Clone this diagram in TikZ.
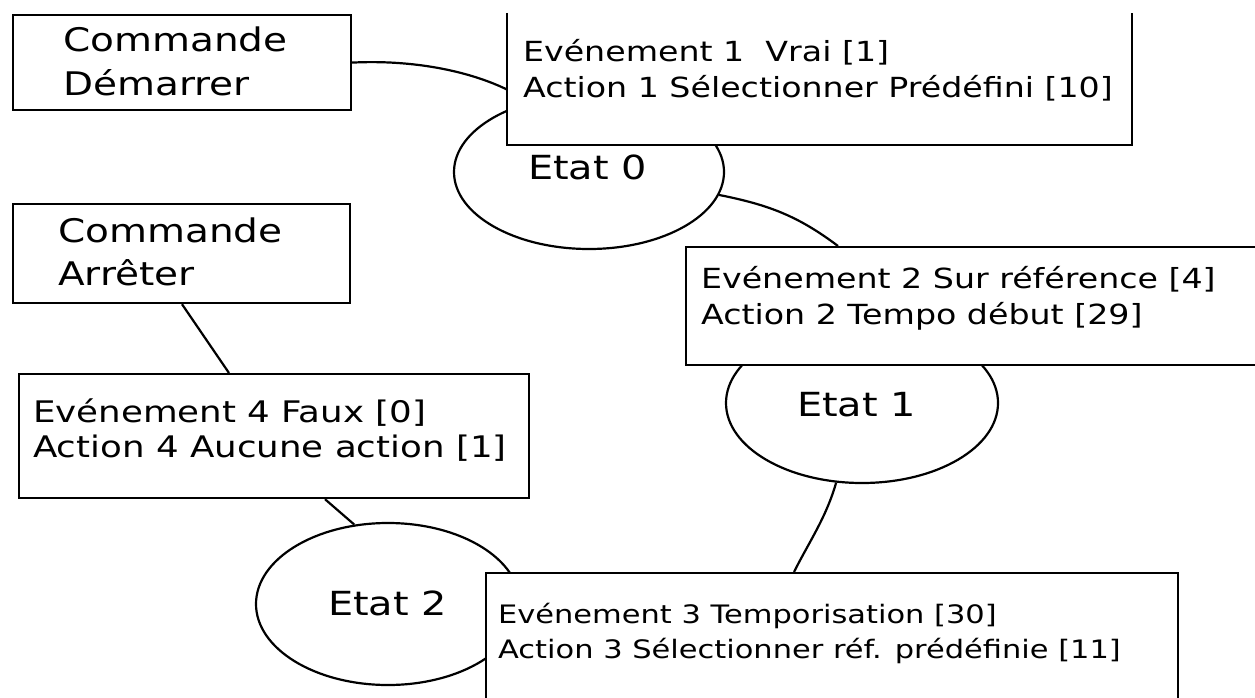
\documentclass[tikz,border=0pt]{standalone}
\usepackage{fontspec}
\usetikzlibrary{shapes.geometric,calc}
\newfontfamily\wf[FakeStretch=1.2]{DejaVu Sans}
\newcommand{\fsz}[1]{\fontsize{#1}{#1}\selectfont}
\begin{document}
\begin{tikzpicture}[x=1pt,y=-1pt,line width=2.2pt,
  box/.style={draw,fill=white,rectangle,inner sep=0pt,anchor=north west},
  state/.style={draw,fill=white,ellipse,inner sep=0pt},
  lbl/.style={inner sep=0pt,anchor=base west,font=\wf},
  link/.style={draw,line width=2.2pt}]
\useasboundingbox (0,0) rectangle (1255,698);
\clip (0,0) rectangle (1255,698);
\fill[white] (0,0) rectangle (1255,698);

% states
\node[state,minimum width=270pt,minimum height=154pt] (e0) at (589,172) {};
\node[state,minimum width=272pt,minimum height=160pt] (e1) at (862,403) {};
\node[state,minimum width=264pt,minimum height=162pt] (e2) at (388,604) {};

% boxes (geometry)
\node[box,minimum width=338pt,minimum height=95pt] (cd) at (12,14) {};
\node[box,minimum width=337pt,minimum height=99pt] (ca) at (12,203) {};
\node[box,minimum width=510pt,minimum height=124pt] (b4) at (18,373) {};

% connectors
\draw[link] (cd.east) .. controls +(60,-3) and +(-40,-20) .. ($(cd.east)+(157,28)$) coordinate (b1in);
\draw[link] (e0.-10) .. controls +(50,10) and +(-40,-30) .. ($(e0.center)+(249,74)$) coordinate (b2in);
\draw[link] (e1.-108) .. controls +(-10,35) and +(15,-30) .. ($(e1.center)+(-68,169)$) coordinate (b3in);
\draw[link] ($(ca.south west)+(170,0)$) -- ($(b4.north west)+(211,0)$);
\draw[link] ($(b4.south west)+(307,0)$) -- (e2.113);

% boxes drawn over the states
\node[box,draw=none,minimum width=623pt,minimum height=130pt] (b1) at (507,13) {};
\draw (b1.north west) -- (b1.south west) -- (b1.south east) -- (b1.north east);
\node[box,minimum width=590pt,minimum height=118pt] (b2) at (685,246) {};
\node[box,minimum width=692pt,minimum height=150pt] (b3) at (485,572) {};

% texts
\node[lbl,font=\wf\fsz{32.5}] (cd1) at (62,52) {Commande};
\node[lbl,font=\wf\fsz{32.5}] (cd2) at (62,96) {Démarrer};
\node[lbl,font=\wf\fsz{32.5}] (ca1) at (57,242) {Commande};
\node[lbl,font=\wf\fsz{32.5}] (ca2) at (57,285) {Arrêter};

\node[lbl,font=\wf\fsz{27.7}] (t1a) at (522,62) {Evénement 1~~Vrai [1]};
\node[lbl,font=\wf\fsz{27.7}] (t1b) at (522,98) {Action 1 Sélectionner Prédéfini [10]};
\node[lbl,font=\wf\fsz{27.7}] (t2a) at (700,288) {Evénement 2 Sur référence [4]};
\node[lbl,font=\wf\fsz{27.7}] (t2b) at (700,324) {Action 2 Tempo début [29]};
\node[lbl,font=\wf\fsz{25.4}] (t3a) at (497,623) {Evénement 3 Temporisation [30]};
\node[lbl,font=\wf\fsz{25.4}] (t3b) at (497,658) {Action 3 Sélectionner réf. prédéfinie [11]};
\node[lbl,font=\wf\fsz{29.7}] (t4a) at (32,422) {Evénement 4 Faux [0]};
\node[lbl,font=\wf\fsz{29.7}] (t4b) at (32,457) {Action 4 Aucune action [1]};

\node[lbl,font=\wf\fsz{33.2}] (s0) at (527,179) {Etat 0};
\node[lbl,font=\wf\fsz{33.2}] (s1) at (796,416) {Etat 1};
\node[lbl,font=\wf\fsz{33.2}] (s2) at (327,615) {Etat 2};
\end{tikzpicture}
\end{document}
